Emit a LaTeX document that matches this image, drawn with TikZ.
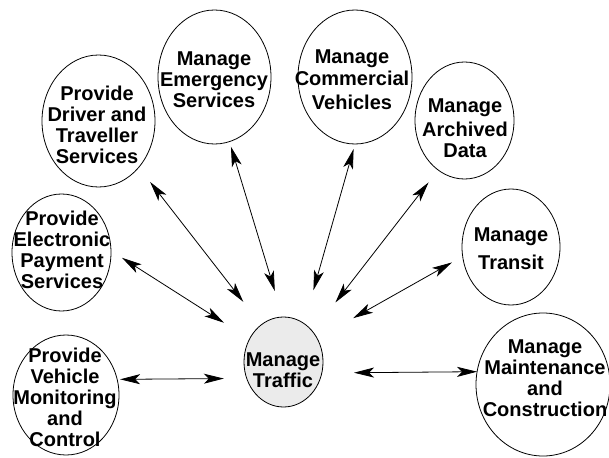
\documentclass[tikz,border=0pt]{standalone}
\usepackage{fontspec}
\setmainfont{Liberation Sans}
\usetikzlibrary{arrows.meta,shapes.geometric}
\begin{document}
\begin{tikzpicture}[x=1pt,y=-1pt,
  oval/.style={ellipse, draw=black, line width=0.8pt, inner sep=0pt, outer sep=0pt},
  lbl/.style={align=center, inner sep=0pt, font=\fontsize{20}{21}\selectfont\bfseries},
  link/.style={line width=0.8pt, {Stealth[length=20pt,width=10pt,inset=5pt]}-{Stealth[length=20pt,width=10pt,inset=5pt]}}]
\useasboundingbox (0,0) rectangle (609,457);
% ellipses
\node[oval, minimum width=113pt, minimum height=132pt] (drv) at (98.5,121) {};
\node[oval, minimum width=113pt, minimum height=134pt] (emg) at (214.5,77) {};
\node[oval, minimum width=114pt, minimum height=134pt] (com) at (355,77) {};
\node[oval, minimum width=99pt, minimum height=117pt] (arc) at (464.5,120.5) {};
\node[oval, minimum width=98pt, minimum height=116pt] (trn) at (511,247) {};
\node[oval, minimum width=134pt, minimum height=143pt] (mnt) at (543,384.5) {};
\node[oval, minimum width=99pt, minimum height=117pt] (epy) at (61.5,252.5) {};
\node[oval, minimum width=106pt, minimum height=120pt] (vmc) at (66,395) {};
\node[oval, fill=black!8, minimum width=79pt, minimum height=90pt] (trf) at (283.5,362) {};
% labels
\node[lbl] (drvT) at (97,125) {Provide\\Driver and\\Traveller\\Services};
\node[lbl] (emgT) at (214,79.5) {Manage\\Emergency\\Services};
\node[lbl] (comT) at (352,80) {Manage\\[1pt]Commercial\\[3pt]Vehicles};
\node[lbl] (arcT) at (465,128) {Manage\\[3pt]Archived\\Data};
\node[lbl] (trnT) at (511,249) {Manage\\[7pt]Transit};
\node[lbl] (mntT) at (545,378) {Manage\\Maintenance\\and\\Construction};
\node[lbl] (epyT) at (62,250) {Provide\\Electronic\\Payment\\Services};
\node[lbl] (vmcT) at (65,397.5) {Provide\\Vehicle\\Monitoring\\and\\Control};
\node[lbl] (trfT) at (283,370) {Manage\\Traffic};
% connectors
\draw[link, shorten <=18.5pt, shorten >=29.2pt] (drv.-49.1) -- (trf.121.5);
\draw[link, shorten <=5.3pt, shorten >=27.2pt] (emg.-77.87) -- (trf.91.96);
\draw[link, shorten <=13.1pt, shorten >=30.2pt] (epy.2.35) -- (trf.146.2);
\draw[link, shorten <=2.9pt, shorten >=22.9pt] (vmc.17.39) -- (trf.204.93);
\draw[link, shorten <=5.2pt, shorten >=34.6pt] (com.-90.5) -- (trf.62.63);
\draw[link, shorten <=15.7pt, shorten >=37pt] (arc.-118.71) -- (trf.46.85);
\draw[link, shorten <=12.3pt, shorten >=41.3pt] (trn.191.74) -- (trf.35.63);
\draw[link, shorten >=32.2pt] (mnt.169.7) -- (trf.-16.02);
\end{tikzpicture}
\end{document}
